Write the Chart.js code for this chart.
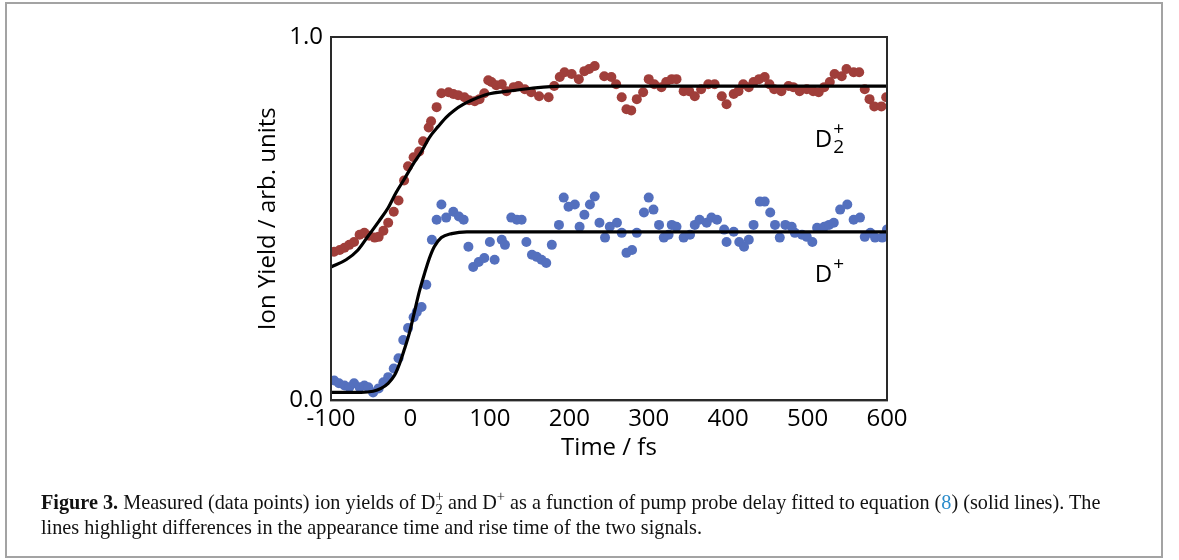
<!DOCTYPE html>
<html>
<head>
<meta charset="utf-8">
<script src="https://cdn.jsdelivr.net/npm/chart.js@4/dist/chart.umd.min.js"></script>
<style>
html,body{margin:0;padding:0;background:#fff;}
#wrap{position:relative;width:1179px;height:560px;overflow:hidden;background:#fff;}
#frame{position:absolute;left:5px;top:2px;width:1158px;height:556px;box-sizing:border-box;border:2px solid #a3a3a3;}
#chart{position:absolute;left:0;top:0;}
#caption{position:absolute;left:41px;top:490px;font-family:"Liberation Serif","Times New Roman",serif;font-size:18px;line-height:25px;color:#111;white-space:nowrap;}
#caption sup,#caption sub{font-size:0.72em;line-height:0;}
#caption .fig{font-weight:bold;}
#caption .ref{color:#2b8ccb;}
</style>
</head>
<body>
<div id="wrap">
  <div id="frame"></div>
  <canvas id="chart" width="1179" height="560"></canvas>
  <div id="caption"><span id="line1"><span class="fig">Figure 3.</span> Measured (data points) ion yields of D<sup>+</sup><sub style="margin-left:-0.55em">2</sub> and D<sup>+</sup> as a function of pump probe delay fitted to equation (<span class="ref">8</span>) (solid lines). The</span><br>lines highlight differences in the appearance time and rise time of the two signals.</div>
</div>
<script>
// ---- data (time in fs, yield in arb. units) ----
const d2Time = [-96,-89,-83,-77,-71,-64,-58,-52,-45,-40,-34,-28,-21,-15,-8,-3,4,11,16,23,26,33,39,48,54,60,68,74,81,87,93,98,102,108,115,121,130,136,144,152,162,174,181,188,194,203,212,219,225,232,244,253,259,266,272,278,285,293,300,307,316,322,329,335,344,351,358,366,375,383,392,398,407,413,419,426,432,439,446,452,458,467,476,482,490,499,507,514,521,528,534,543,549,558,565,572,578,584,593,599];
const d2Yield = [0.409,0.414,0.420,0.428,0.436,0.456,0.461,0.453,0.448,0.450,0.467,0.489,0.519,0.550,0.605,0.644,0.669,0.685,0.713,0.751,0.768,0.807,0.845,0.848,0.843,0.840,0.834,0.826,0.823,0.829,0.845,0.881,0.876,0.867,0.870,0.851,0.862,0.865,0.856,0.848,0.837,0.834,0.865,0.890,0.903,0.898,0.884,0.906,0.912,0.920,0.892,0.890,0.870,0.834,0.801,0.798,0.829,0.848,0.884,0.870,0.862,0.876,0.884,0.884,0.851,0.851,0.837,0.856,0.870,0.870,0.837,0.815,0.843,0.851,0.870,0.862,0.876,0.884,0.890,0.870,0.856,0.851,0.865,0.862,0.851,0.856,0.851,0.848,0.862,0.876,0.898,0.892,0.912,0.903,0.903,0.856,0.829,0.809,0.809,0.834];

const dTime = [-96,-90,-83,-77,-71,-64,-58,-53,-47,-40,-34,-28,-21,-15,-9,-3,4,8,14,20,27,33,39,45,54,61,67,73,79,86,93,100,106,115,119,127,134,140,146,153,159,165,171,178,187,193,199,207,213,219,226,232,238,245,251,260,266,272,279,285,294,300,306,313,319,325,329,335,344,352,358,364,373,379,386,395,398,407,414,420,426,432,440,446,453,459,465,472,480,484,493,499,506,512,521,527,533,541,550,558,566,572,579,585,594,600];
const dYield = [0.055,0.047,0.041,0.036,0.047,0.036,0.041,0.036,0.022,0.033,0.050,0.064,0.088,0.116,0.166,0.199,0.229,0.243,0.257,0.318,0.442,0.497,0.539,0.503,0.519,0.506,0.497,0.423,0.367,0.381,0.392,0.436,0.387,0.442,0.428,0.503,0.497,0.497,0.436,0.401,0.395,0.387,0.378,0.428,0.483,0.558,0.533,0.539,0.478,0.511,0.539,0.561,0.489,0.448,0.478,0.489,0.461,0.406,0.414,0.461,0.517,0.558,0.525,0.483,0.448,0.456,0.483,0.478,0.448,0.456,0.483,0.497,0.489,0.503,0.497,0.470,0.436,0.464,0.436,0.423,0.442,0.483,0.547,0.547,0.517,0.483,0.448,0.483,0.478,0.461,0.456,0.450,0.436,0.475,0.478,0.483,0.489,0.525,0.539,0.497,0.503,0.450,0.461,0.448,0.448,0.470];

// fitted curves
const d2FitTime  = [-100,-81,-66,-53,-40,-28,-18,-8,3,14,24,35,45,55,67,77,98,123,152,190,600];
const d2FitYield = [0.367,0.387,0.414,0.453,0.492,0.530,0.572,0.608,0.649,0.685,0.724,0.754,0.779,0.798,0.815,0.826,0.843,0.851,0.859,0.865,0.865];
const dFitTime  = [-100,-62,-47,-37,-28,-20,-14,-8,-1,5,11,18,24,30,39,52,71,600];
const dFitYield = [0.022,0.022,0.025,0.033,0.047,0.069,0.099,0.138,0.188,0.243,0.298,0.351,0.392,0.423,0.448,0.459,0.464,0.464];

const xTickValues = [-100,0,100,200,300,400,500,600];
const yTickValues = [0,1];
const yTickLabels = ['0.0','1.0'];

const seriesLabels = [
  {x: 509, y: 0.697, main: 'D', sup: '+', sub: '2'},
  {x: 509, y: 0.325, main: 'D', sup: '+', sub: ''}
];

const RED = 'rgb(160,62,58)';
const BLUE = 'rgb(84,112,190)';

function pts(xs, ys){ return xs.map((x,i)=>({x:x, y:ys[i]})); }

const boxPlugin = {
  id:'box',
  afterDraw(chart){
    const {ctx, chartArea:a} = chart;
    ctx.save();
    ctx.strokeStyle = '#2a2a2a';
    ctx.lineWidth = 2;
    ctx.strokeRect(a.left, a.top, a.right-a.left, a.bottom-a.top);
    ctx.restore();
  }
};

const labelPlugin = {
  id:'seriesLabels',
  afterDatasetsDraw(chart){
    const {ctx, scales} = chart;
    ctx.save();
    ctx.fillStyle = '#000';
    ctx.textBaseline = 'alphabetic';
    ctx.textAlign = 'left';
    seriesLabels.forEach(l=>{
      const px = scales.x.getPixelForValue(l.x);
      const py = scales.y.getPixelForValue(l.y);
      ctx.font = '24px "Open Sans"';
      ctx.fillText(l.main, px, py);
      const w = ctx.measureText(l.main).width;
      ctx.font = '19px "Open Sans"';
      ctx.fillText(l.sup, px + w + 1, py - 12);
      if (l.sub) ctx.fillText(l.sub, px + w + 1, py + 6);
    });
    ctx.restore();
  }
};

const tickFont = {family:'"Open Sans"', size:24};

new Chart(document.getElementById('chart'), {
  type:'scatter',
  data:{
    datasets:[
      {data:pts(d2FitTime,d2FitYield), showLine:true, borderColor:'#000', borderWidth:3.2, pointRadius:0, tension:0.4, cubicInterpolationMode:'monotone', fill:false},
      {data:pts(dFitTime,dFitYield), showLine:true, borderColor:'#000', borderWidth:3.2, pointRadius:0, tension:0.4, cubicInterpolationMode:'monotone', fill:false},
      {data:pts(d2Time,d2Yield), showLine:false, pointRadius:5, pointBackgroundColor:RED, pointBorderWidth:0, backgroundColor:RED},
      {data:pts(dTime,dYield), showLine:false, pointRadius:5, pointBackgroundColor:BLUE, pointBorderWidth:0, backgroundColor:BLUE}
    ]
  },
  options:{
    responsive:false,
    animation:false,
    layout:{padding:{left:254, top:37, right:292, bottom:97.6}},
    plugins:{legend:{display:false}, tooltip:{enabled:false}},
    scales:{
      x:{
        type:'linear', min:-100, max:600,
        afterBuildTicks(s){ s.ticks = xTickValues.map(v=>({value:v})); },
        afterFit(s){ s.height = 62; },
        grid:{display:false, drawTicks:false},
        border:{display:true, color:'#2a2a2a', width:2},
        ticks:{font:tickFont, color:'#000', padding:4, maxRotation:0, autoSkip:false},
        title:{display:true, text:'Time / fs', font:tickFont, color:'#000', padding:0}
      },
      y:{
        type:'linear', min:0, max:1,
        afterBuildTicks(s){ s.ticks = yTickValues.map(v=>({value:v})); },
        afterFit(s){ s.width = 77; },
        grid:{display:false, drawTicks:false},
        border:{display:true, color:'#2a2a2a', width:2},
        ticks:{font:tickFont, color:'#000', padding:8, autoSkip:false,
          callback(v){ const i = yTickValues.indexOf(v); return i>=0 ? yTickLabels[i] : ''; }},
        title:{display:true, text:'Ion Yield / arb. units', font:tickFont, color:'#000', padding:0}
      }
    }
  },
  plugins:[boxPlugin, labelPlugin]
});

// fit caption first line to the reference width
(function(){
  const cap = document.getElementById('caption');
  const l1 = document.getElementById('line1');
  const target = 1060;
  const w = l1.getBoundingClientRect().width;
  if (w > 0) {
    let fs = 18 * target / w;
    fs = Math.max(15, Math.min(21, fs));
    cap.style.fontSize = fs.toFixed(2) + 'px';
  }
})();
</script>
</body>
</html>
